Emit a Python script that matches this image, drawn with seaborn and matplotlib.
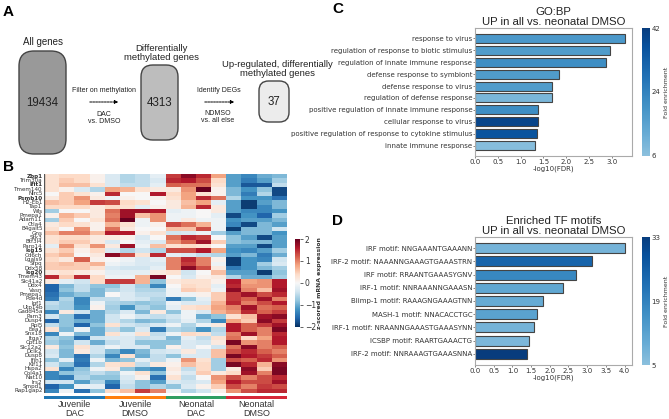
import numpy as np
import pandas as pd
import seaborn as sns
import matplotlib.pyplot as plt
from matplotlib.cm import ScalarMappable
from matplotlib.colors import LinearSegmentedColormap, ListedColormap, Normalize
from matplotlib.patches import FancyBboxPatch

W, H = 669, 419

# Panel B
genes = ['Zbp1', 'Trim30a', 'Ifit1', 'Tmem140', 'Nlrc5', 'Psmb10', 'H2-Eb1', 'Tap1', 'Wls', 'Pmepa1',
         'Adam11', 'Ctla4', 'B4galt5', 'Gns', 'Stk3', 'Btf3l4', 'Parp14', 'Isg15', 'Cd6ch', 'Lgals9',
         'Sfpq', 'Ddx58', 'Isg20', 'Tmem43', 'Slc41a2', 'Ddx4', 'Vasn', 'Pmepa1', 'Pde4d', 'Igf1',
         'Utp14b', 'Gadd45a', 'Pam3', 'Dusp4', 'Rpl5', 'Eea1', 'Snx18', 'Itga7', 'Cpt1b', 'Slc12a2',
         'Dclk2', 'Dusp8', 'Ifih1', 'Klf11', 'Hspa2', 'Col4a1', 'Nat10', 'Irs2', 'Smpd1', 'Rap1gap2']
bold_genes = ['Zbp1', 'Ifit1', 'Psmb10', 'Isg15', 'Isg20']
groups = ['Juvenile\nDAC', 'Juvenile\nDMSO', 'Neonatal\nDAC', 'Neonatal\nDMSO']
group_colors = ['#1f77b4', '#ff7f0e', '#2f9e62', '#d62738']
zscores = [
    [.3, .4, .4, .1, -.3, -.6, -.5, -.2, 1.4, 1.8, 1.5, .8, -1.1, -1.3, -1, -.9],
    [.3, .5, .4, .1, -.3, -.6, -.5, -.3, 1.5, 1.6, 1.3, .4, -1.1, -1.4, -1.1, -.7],
    [.3, .6, .6, .3, -.3, -.5, -.5, -.2, 1.2, 1.1, 1.1, .3, -1.1, -1.7, -1.7, -.5],
    [.3, .1, -.3, -.6, .8, .7, .3, .2, .2, .9, 2, .1, -.9, -1.2, -.8, -1.8],
    [0, .5, .3, .1, 1.5, 0, 0, 1.6, .4, .8, .3, .1, -.9, -1.4, -.6, -1.8],
    [.2, .5, .9, .2, -.1, .1, 0, .1, .3, .8, 1.5, 1.1, -.6, -1.2, -1.2, -1.5],
    [.6, .5, .8, 1.4, 1.3, .4, .3, 0, .2, .6, .8, -.2, -1.1, -1.9, -1.1, -.9],
    [.4, .4, .4, .2, .4, .3, -.2, .1, .2, .7, 1.5, .2, -1.1, -1.9, -1.3, -.9],
    [-.7, 0, 0, .2, 1.1, 1.7, 1.7, 1.6, -.2, -.1, 0, .2, -1.1, -1.3, -1.3, -1.2],
    [.1, .7, .5, .2, 1, 1.7, .6, .9, -.1, -.1, 0, -.2, -1.8, -1.2, -1.6, -.7],
    [-.7, .5, 0, .3, 1.1, 2, -.1, .9, -.1, .2, -.1, -.1, -1.2, -1.1, -1.1, -.9],
    [.2, .4, .3, .1, .7, .3, -.1, .1, 1.3, 1.1, .7, -.1, -1.3, -1.8, -.9, -1.1],
    [.3, 0, .9, .1, 1.1, .2, 0, 0, .6, .6, 1.3, -.1, -1.9, -.9, -.9, -.4],
    [.6, 1, 1, .6, 1.6, 1.6, .1, .3, -.4, -.3, -.1, -.7, -1.1, -.9, -.9, -1.2],
    [.3, .4, .4, .2, .2, .1, -.3, 0, 1.1, 1.5, 1.4, 0, -.8, -1.1, -1.8, -1.1],
    [.3, .5, .5, .2, -.3, 0, -.2, -.3, .9, 1.2, 1.7, .5, -.8, -.9, -.9, -1.1],
    [-.2, .9, .3, .9, .2, 1.7, -.1, .6, .3, .4, .3, 0, -1.1, -1.1, -1.8, -1.1],
    [.3, .5, .1, .4, -.3, -.6, -.4, -.6, 1.3, 1.3, 1.6, .8, -1.2, -1.3, -1.1, -.7],
    [.5, .7, 0, .2, 1.8, 1.3, .3, 1.5, -.2, -.3, -.5, -.6, -1.1, -.9, -1.4, -1],
    [.4, .2, 1.2, .1, 0, -.1, -.3, -.2, 1, 1.5, 1, .1, -1.9, -1.2, -1.3, -.4],
    [.5, .6, .5, .7, -.1, -.2, -.3, -.3, 1, 1.4, 1, -.1, -1.9, -1.2, -.7, -.3],
    [.5, .5, .5, .3, -.3, -.4, -.4, -.2, 1, 1.8, 1.3, .2, -1.4, -1.2, -.9, -.7],
    [.2, .3, .2, .1, -.2, -.2, -.2, .2, .3, -.4, 0, .6, -1.1, -1.1, -1.9, -.8],
    [1.5, .5, 1.5, .4, -.1, -.1, .7, 1.9, 0, -.3, .1, .2, -.6, -1, -1, -.7],
    [.2, -.2, -.4, .4, 1.4, 1.4, .7, -.8, .2, .3, .3, .1, 1.6, .8, .9, 1.6],
    [-1.6, -.9, -.5, -.8, -.8, -.4, -.7, -1.3, 0, .4, .3, -.2, 1.5, .9, .9, 1.6],
    [-1.6, -.8, -.5, -.9, -.6, -.4, -.6, -.6, -.1, .5, .4, -.1, 1.8, 1, .6, 1.7],
    [-1.5, -1, -.8, -.9, 0, -.3, -.5, -.5, -.1, -.1, .1, .5, 1.4, 1.7, 1.3, 1.5],
    [-1.4, -.6, -1.3, -.5, -.5, -.3, -.4, -.6, -1.4, -.8, -.2, .5, 1.4, 1.2, 1.7, 1],
    [-.5, -.7, -1.3, -.1, -.6, -.7, -.8, -.7, -.1, -.3, -.3, .7, 1.5, 1, 1.3, 1.6],
    [-.6, -.7, -1.2, .1, -.7, -1.2, -.6, -.8, -.2, .3, .4, .8, 1, 1.7, 1.1, 1.2],
    [-1.3, .2, -.4, -1, -.6, -.3, -.9, .2, -.8, -.1, -.3, .7, .9, 1.5, 1.2, 1.4],
    [-.4, -.8, -1.5, -1, -.4, -.1, -.4, -.5, -.4, -.1, -1, -.8, .3, .6, 1.7, 1.8],
    [-1.6, -.8, -1, -1, -.4, -.6, -.9, -.8, -.5, -.2, -.6, -1.3, .8, .5, 1.8, 1.4],
    [-.5, -.8, -1.6, -.8, .3, -.4, -.5, -.3, -.1, -.6, -.1, .2, 1.6, 1.2, 1.4, 1.7],
    [.3, -.9, -.1, -1, -.5, -.8, -.3, -1.4, -.6, -.7, -1.2, -.6, 1.6, 1.2, 1, 1.9],
    [-1.3, -.1, -.9, -1, .3, -.2, .3, -.5, -.1, .4, .3, -.5, 1, 1.7, 1, 1.5],
    [-.6, -.8, -1.5, -.4, -.3, -.3, -.5, -.4, -.9, -.2, -.5, .3, 1.1, .4, .8, 1.6],
    [-.7, -.9, -.4, -1, -.5, -.3, -.8, -.8, -.8, -.3, -.4, .2, 1.9, .9, 1, 1.6],
    [.2, -.8, .3, -.4, -.1, -.3, -.3, -.8, .1, -.3, 0, -.4, 1.1, 1.8, 1, 1.2],
    [-.4, -.9, .2, -.4, -.9, -1.3, -.9, -.4, -.3, .2, -.3, .6, 1.3, 1.5, 1.2, 1],
    [-.3, -.9, -1.5, -.6, -1.3, .3, -1, -.5, -.8, -.3, -.3, .6, 1.9, 1.6, 1.4, 1.2],
    [-.8, -.2, -1.4, -.1, -.9, -.8, -.2, -.5, -.1, .9, .3, -.7, 1.3, 1.2, 1.5, .9],
    [-.4, -.8, -1.5, -.6, .3, .4, -.5, .2, .1, .6, .4, -.7, 1.9, 1.5, .7, 1.8],
    [.3, -1.3, -.8, -.1, .2, -.8, -1.1, -1.3, .2, -.5, .4, -.7, .2, 1.8, .5, 1.9],
    [-1.3, -.8, -.7, -.5, -.7, -.1, .3, -.8, .1, -.3, .5, .2, .4, 1.7, 1, 1.9],
    [-1.3, -1.4, -.6, -.8, -.8, -.3, .1, -1.5, .3, -.5, 0, .9, 1.3, 1, 1.3, 1.5],
    [-.4, -.4, -1.1, -.6, -1.3, -.4, -.8, -1.1, -.3, -.4, -.3, .8, 1.6, 1.3, 1.3, 1.7],
    [-1.6, -1.2, -.1, -.2, -1.6, -.5, -.8, -.6, -.8, -.3, .1, .5, 1.3, 1, 1.4, 1.3],
    [-1.3, -.1, -1.5, -.8, .4, .6, 1.4, 1, -.1, -.6, -.4, .1, .9, 1.3, 1.5, 1.5],
]

# Panel C
go_terms = ['response to virus', 'regulation of response to biotic stimulus',
            'regulation of innate immune response', 'defense response to symbiont',
            'defense response to virus', 'regulation of defense response',
            'positive regulation of innate immune response', 'cellular response to virus',
            'positive regulation of response to cytokine stimulus', 'innate immune response']
go_fdr = [3.28, 2.96, 2.87, 1.83, 1.69, 1.68, 1.37, 1.37, 1.35, 1.32]
go_fold = [18, 17, 21, 17, 17, 9, 21, 40, 36, 7]

# Panel D
motifs = ['IRF motif: NNGAAANTGAAANN', 'IRF-2 motif: NAAANNGAAAGTGAAASTRN', 'IRF motif: RRAANTGAAASYGNV',
          'IRF-1 motif: NNRAAANNGAAASN', 'Blimp-1 motif: RAAAGNGAAAGTNN', 'MASH-1 motif: NNACACCTGC',
          'IRF-1 motif: NRAANNGAAASTGAAASYNN', 'ICSBP motif: RAARTGAAACTG', 'IRF-2 motif: NNRAAAGTGAAASNNA']
motif_fdr = [4.0, 3.13, 2.71, 2.36, 1.83, 1.66, 1.57, 1.44, 1.40]
motif_fold = [8, 25, 18, 11, 10, 12, 8, 7, 33]

sns.set_theme(style='white')
plt.rcParams['font.family'] = ['DejaVu Sans']
TITLE_FONT = 'Liberation Sans'
DARK = '#333333'

fig = plt.figure(figsize=(W / 100, H / 100), dpi=100)


def px_axes(x0, y0, x1, y1):
    return fig.add_axes([x0 / W, 1 - y1 / H, (x1 - x0) / W, (y1 - y0) / H])


# overlay for panel A and the panel letters
canvas = px_axes(0, 0, W, H)
canvas.set_xlim(0, W)
canvas.set_ylim(H, 0)
canvas.axis('off')

for x0, y0, x1, y1, col, txt in [(19, 51, 66, 154, '#999999', '19434'),
                                 (141, 65, 178, 140, '#bdbdbd', '4313'),
                                 (259, 81, 289, 122, '#ececec', '37')]:
    r = min(x1 - x0, y1 - y0) * 0.32
    canvas.add_patch(FancyBboxPatch((x0 + r, y0 + r), x1 - x0 - 2 * r, y1 - y0 - 2 * r,
                                    boxstyle=f'round,pad={r},rounding_size={r}',
                                    fc=col, ec='#444444', lw=1))
    canvas.text((x0 + x1) / 2, (y0 + y1) / 2, txt, ha='center', va='center', size=8.3,
                family=TITLE_FONT, color='#222222')

for x, y, txt, size in [(43, 42, 'All genes', 7), (161, 53, 'Differentially\nmethylated genes', 6.8),
                        (277, 69, 'Up-regulated, differentially\nmethylated genes', 6.8),
                        (104, 90, 'Filter on methylation', 5), (104, 118, 'DAC\nvs. DMSO', 5),
                        (219, 90, 'Identify DEGs', 5), (218, 117, 'NDMSO\nvs. all else', 5)]:
    canvas.text(x, y, txt, ha='center', va='center', size=size, family=TITLE_FONT, color='#222222',
                linespacing=1.05)
for x0, x1 in [(87, 121), (202, 237)]:
    canvas.annotate('', xy=(x1, 102), xytext=(x0, 102),
                    arrowprops=dict(arrowstyle='-|>', ls=(0, (2, 1)), lw=0.7, color='black', mutation_scale=5))

for x, y, letter in [(3, 12, 'A'), (3, 167, 'B'), (332, 9, 'C'), (332, 221, 'D')]:
    canvas.text(x, y, letter, ha='left', va='center', size=11, weight='bold', family=TITLE_FONT, color='black')

# Panel B: heatmap
ax_heat = px_axes(44, 174, 287, 393)
ax_cbar = px_axes(295, 239, 300, 327)
heat = pd.DataFrame(zscores, index=genes)
sns.heatmap(heat, cmap='RdBu_r', vmin=-2, vmax=2, ax=ax_heat, cbar_ax=ax_cbar,
            xticklabels=False, yticklabels=True)
ax_heat.tick_params(axis='y', length=0, pad=1, labelsize=4.1, labelcolor=DARK, rotation=0)
for lab in ax_heat.get_yticklabels():
    if lab.get_text() in bold_genes:
        lab.set_weight('bold')
ax_heat.axvline(0, color='#555555', lw=1)
ax_cbar.set_yticks([-2, -1, 0, 1, 2])
ax_cbar.tick_params(length=2.5, width=0.5, pad=1, labelsize=5.5, labelcolor=DARK)
ax_cbar.set_ylabel('z-scored mRNA expression', size=4.4, weight='bold', labelpad=0.5, color=DARK)

ax_strip = px_axes(44, 396, 287, 399)
strip = np.repeat(np.arange(len(groups)), 4).reshape(1, -1)
sns.heatmap(strip, cmap=ListedColormap(group_colors), cbar=False, ax=ax_strip, yticklabels=False)
ax_strip.set_xticks([2, 6, 10, 14])
ax_strip.set_xticklabels(groups, rotation=0, size=6.5, family=TITLE_FONT, color=DARK, linespacing=1.0)
ax_strip.tick_params(axis='x', length=0, pad=0.5)

# Panels C and D: bars coloured by fold enrichment
blues = LinearSegmentedColormap.from_list(
    'fold', sns.color_palette('Blues', as_cmap=True)(np.linspace(0.42, 0.95, 64)))


def bar_panel(box, cbar_box, names, fdr, fold, ticks, xlim, xticks, title, ymargin):
    ax = px_axes(*box)
    norm = Normalize(ticks[0], ticks[-1])
    df = pd.DataFrame({'name': names, 'fdr': fdr})
    sns.barplot(data=df, x='fdr', y='name', hue='name', dodge=False, legend=False, ax=ax, width=0.76,
                palette=[blues(norm(v)) for v in fold], edgecolor='#444444', linewidth=0.8, saturation=1)
    ax.set_xlim(0, xlim)
    ax.set_ylim(len(names) - 1 + ymargin, -ymargin)
    ax.set_xticks(xticks)
    ax.set_ylabel('')
    ax.set_xlabel('-log10(FDR)', size=5, color=DARK, labelpad=0.5)
    ax.tick_params(axis='both', labelsize=5, labelcolor=DARK, length=1.5, width=0.5, pad=0.5, bottom=True, left=True,
                   color='#555555')
    for s in ax.spines.values():
        s.set_color('#aaaaaa')
        s.set_linewidth(0.8)
    ax.set_title(title, size=8.2, family=TITLE_FONT, color='#222222', pad=2, linespacing=1.05)
    cax = px_axes(*cbar_box)
    cb = fig.colorbar(ScalarMappable(norm=norm, cmap=blues), cax=cax)
    cb.set_ticks(ticks)
    cb.outline.set_visible(False)
    cb.ax.tick_params(labelsize=5, labelcolor=DARK, length=0, pad=1)
    cb.set_label('Fold enrichment', size=4.5, color=DARK, labelpad=2.5)
    return ax


bar_panel((475, 28, 632, 156), (642, 28, 650, 156), go_terms, go_fdr, go_fold, [6, 24, 42], 3.44,
          np.arange(0, 3.5, 0.5), 'GO:BP\nUP in all vs. neonatal DMSO', 0.88)
bar_panel((475, 237, 632, 365), (642, 237, 650, 365), motifs, motif_fdr, motif_fold, [5, 19, 33], 4.2,
          np.arange(0, 4.5, 0.5), 'Enriched TF motifs\nUP in all vs. neonatal DMSO', 0.86)

fig.savefig('out.png', dpi=100)
